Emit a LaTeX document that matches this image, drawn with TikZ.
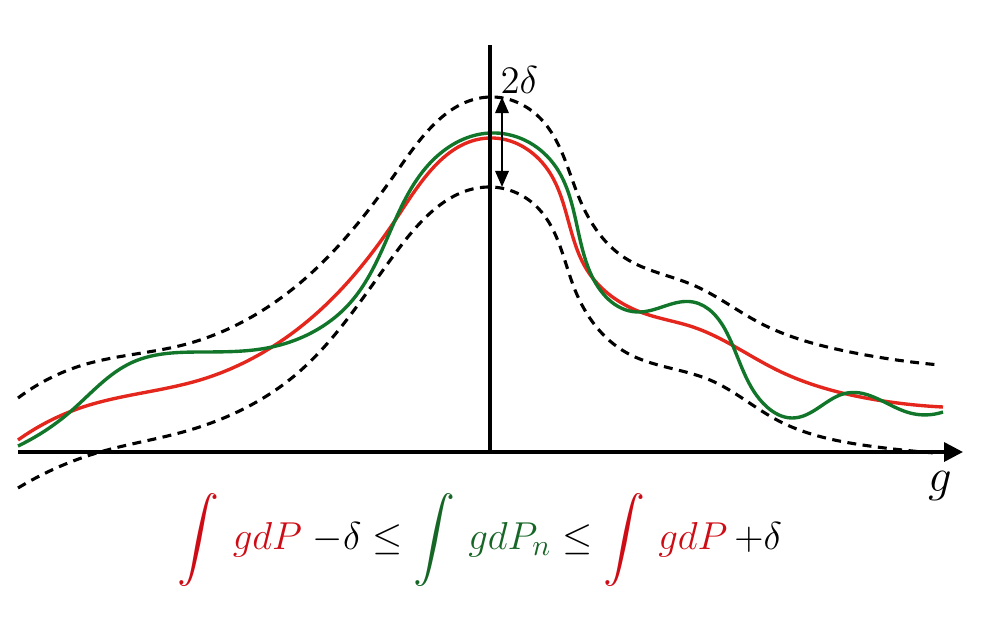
\documentclass[tikz,border=0pt]{standalone}
\usepackage{amsmath,amssymb}
\usepackage{xcolor}
\usetikzlibrary{arrows.meta,hobby}
\definecolor{curvered}{RGB}{228,38,28}
\definecolor{curvegreen}{RGB}{18,118,42}
\definecolor{textred}{RGB}{206,12,22}
\definecolor{textgreen}{RGB}{22,102,38}

\begin{document}
\begin{tikzpicture}[x=0.013cm,y=-0.013cm,>=Stealth,line join=round,use Hobby shortcut,
  band/.style={line width=1.15pt,dash pattern=on 3.3pt off 2.4pt},
  fitline/.style={line width=1.25pt}]
  \useasboundingbox (0,0) rectangle (986,630);
  \coordinate (XL) at (18,452);
  \coordinate (XR) at (963,452);
  \coordinate (YB) at (490,452);
  \coordinate (YT) at (490,45);
  \coordinate (UP) at (502,97);
  \coordinate (LO) at (502,187);
  % tolerance band
  \draw[band] (18,398) .. (83,365) .. (183,345) .. (300,283) .. (400,167)
    .. (490,97) .. (540,118) .. (580,200) .. (625,258) .. (693,285)
    .. (760,323) .. (850,352) .. (940,365);
  \draw[band] (18,488) .. (100,452) .. (183,432) .. (293,377) .. (400,247)
    .. (490,187) .. (538,208) .. (575,290) .. (627,353) .. (710,380)
    .. (777,420) .. (877,447) .. (935,453);
  % limit and approximation
  \draw[fitline,curvered] (18,440) .. (83,407) .. (200,380) .. (317,313)
    .. (400,213) .. (490,138) .. (548,170) .. (587,270) .. (643,313)
    .. (693,327) .. (777,370) .. (877,400) .. (943,407);
  \draw[fitline,curvegreen] (18,446) .. (70,412) .. (133,362) .. (200,352)
    .. (267,348) .. (350,303) .. (433,160) .. (490,133) .. (553,163)
    .. (590,272) .. (637,312) .. (693,302) .. (727,333) .. (767,407)
    .. (792,418) .. (847,393) .. (910,413) .. (943,412);
  % axes
  \draw[line width=1.2pt] (YB) -- (YT);
  \draw[line width=1.3pt,-{Triangle[length=7pt,width=7pt]}] (XL) -- (XR);
  \draw[line width=0.8pt,{Triangle[length=6pt,width=5pt]}-{Triangle[length=6pt,width=5pt]}] (UP) -- (LO);
  \node[font=\Large,anchor=west,inner sep=0pt] (dlt) at (500,80) {$2\delta$};
  \node[font=\LARGE] (glab) at (940,486) {$g$};
  \node[font=\fontsize{15.5}{19}\selectfont] (ineq) at (480,540)
    {$\displaystyle {\color{textred}\int\, gdP}\;{-}\delta \leq
      {\color{textgreen}\int\, gdP_n} \leq {\color{textred}\int\, gdP}\,{+}\delta$};
\end{tikzpicture}
\end{document}
